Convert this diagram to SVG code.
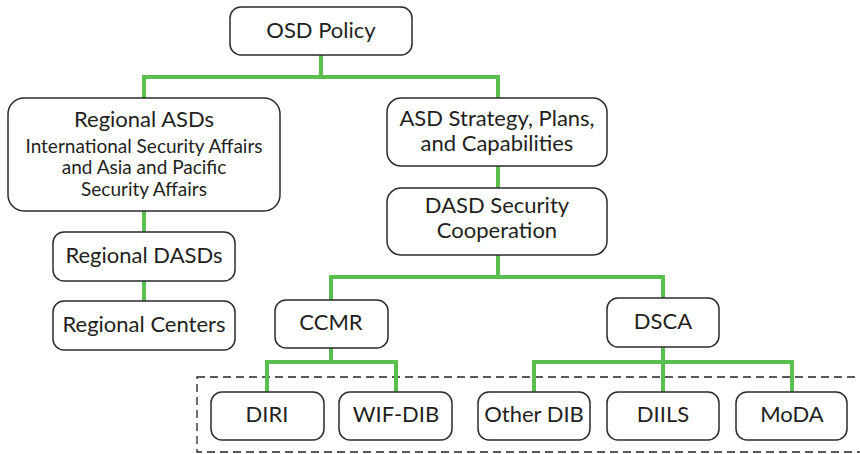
<svg xmlns="http://www.w3.org/2000/svg" width="860" height="454" viewBox="0 0 860 454">
<style>
.box{fill:#fff;stroke:#2b2b2b;stroke-width:1.5}
.t{font-family:Lato,"Open Sans","Liberation Sans",sans-serif;fill:#231f20;text-anchor:middle;font-size:22px}
.s{font-size:19px}
.c{fill:none;stroke:#5bbf4f;stroke-width:4}
</style>
<rect x="197" y="377" width="680" height="75" fill="none" stroke="#222" stroke-width="1.3" stroke-dasharray="8,5"/>
<g id="connectors">
<path class="c" d="M321 55V77M144 77H498M144 75V98M498 75V98"/>
<path class="c" d="M144 211V232M144 281V301"/>
<path class="c" d="M498 166V188"/>
<path class="c" d="M498 255V277M331 277H663M331 275V300M663 275V298"/>
<path class="c" d="M331 348V362M267 362H396M267 360V392M396 360V392"/>
<path class="c" d="M663 347V392M534 362H792M534 360V392M792 360V392"/>
</g>
<g id="osd"><rect class="box" x="230" y="7" width="182" height="48" rx="11"/><text class="t" x="321" y="38">OSD Policy</text></g>
<g id="regional-asds"><rect class="box" x="8" y="98" width="272" height="113" rx="16"/>
<text class="t" x="144" y="127">Regional ASDs</text>
<text class="t s" x="144" y="153">International Security Affairs</text>
<text class="t s" x="144" y="174">and Asia and Pacific</text>
<text class="t s" x="144" y="196">Security Affairs</text></g>
<g id="asd-spc"><rect class="box" x="387" y="98" width="220" height="68" rx="14"/>
<text class="t" x="497" y="126">ASD Strategy, Plans,</text>
<text class="t" x="497" y="151">and Capabilities</text></g>
<g id="dasd-sc"><rect class="box" x="387" y="188" width="220" height="67" rx="14"/>
<text class="t" x="497" y="213">DASD Security</text>
<text class="t" x="497" y="238">Cooperation</text></g>
<g id="regional-dasds"><rect class="box" x="53" y="232" width="182" height="49" rx="11"/><text class="t" x="144" y="263">Regional DASDs</text></g>
<g id="regional-centers"><rect class="box" x="53" y="301" width="182" height="49" rx="11"/><text class="t" x="144" y="332">Regional Centers</text></g>
<g id="ccmr"><rect class="box" x="275" y="300" width="113" height="48" rx="11"/><text class="t" x="331" y="330">CCMR</text></g>
<g id="dsca"><rect class="box" x="607" y="298" width="112" height="49" rx="11"/><text class="t" x="663" y="329">DSCA</text></g>
<g id="diri"><rect class="box" x="211" y="392" width="113" height="48" rx="11"/><text class="t" x="267" y="422">DIRI</text></g>
<g id="wif-dib"><rect class="box" x="339" y="392" width="113" height="48" rx="11"/><text class="t" x="396" y="422">WIF-DIB</text></g>
<g id="other-dib"><rect class="box" x="478" y="392" width="112" height="48" rx="11"/><text class="t" x="534" y="422">Other DIB</text></g>
<g id="diils"><rect class="box" x="607" y="392" width="112" height="48" rx="11"/><text class="t" x="663" y="422">DIILS</text></g>
<g id="moda"><rect class="box" x="736" y="392" width="111" height="48" rx="11"/><text class="t" x="792" y="422">MoDA</text></g>
</svg>
